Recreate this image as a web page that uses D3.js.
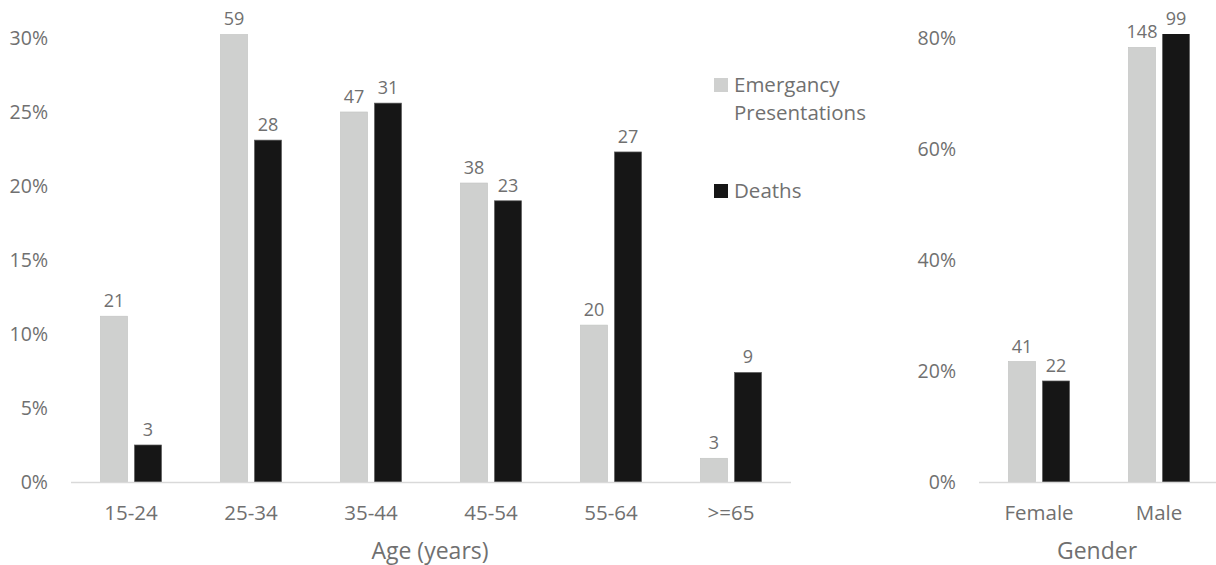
<!DOCTYPE html>
<html>
<head>
<meta charset="utf-8">
<script src="https://cdn.jsdelivr.net/npm/d3@7"></script>
<style>
  body { margin: 0; background: #fff; }
  svg text { font-family: 'Open Sans', sans-serif; fill: #707070; }
</style>
</head>
<body>
<div id="chart"></div>
<script>
// age panel
let ageGroups = ['15-24', '25-34', '35-44', '45-54', '55-64', '>=65']
let agePresPct = [11.2, 31.4, 25.0, 20.2, 10.6, 1.6]
let ageDeathPct = [2.5, 23.1, 25.6, 19.0, 22.3, 7.4]
let agePresN = [21, 59, 47, 38, 20, 3]
let ageDeathN = [3, 28, 31, 23, 27, 9]
let ageTicks = [0, 5, 10, 15, 20, 25, 30]

// gender panel
let genders = ['Female', 'Male']
let genderPresPct = [21.7, 78.3]
let genderDeathPct = [18.2, 81.8]
let genderPresN = [41, 148]
let genderDeathN = [22, 99]
let genderTicks = [0, 20, 40, 60, 80]

let seriesNames = ['Emergancy\nPresentations', 'Deaths']
let colors = ['#cfd0cf', '#161616']
let strokes = ['#c4c5c4', '#5a5a5a']

let width = 1216,
  height = 565,
  baseY = 482,
  topY = 38,
  clipTop = 34

let svg = d3.select('#chart').append('svg')
  .attr('width', width)
  .attr('height', height)

function panel (opts) {
  let x = d3.scaleBand()
    .domain(opts.cats)
    .range([opts.x0, opts.x0 + opts.cats.length * 120])

  let y = d3.scaleLinear()
    .domain([0, opts.max])
    .range([baseY, topY])

  let g = svg.append('g')

  svg.append('clipPath').attr('id', opts.id)
    .append('rect')
    .attr('x', opts.x0)
    .attr('y', clipTop)
    .attr('width', opts.cats.length * 120)
    .attr('height', baseY - clipTop)

  // tick labels
  g.selectAll('.ytick')
    .data(opts.ticks)
    .enter().append('text')
    .attr('x', opts.labelX)
    .attr('y', d => y(d))
    .attr('dy', '0.35em')
    .attr('text-anchor', 'end')
    .style('font-size', '19.5px')
    .text(d => d + '%')

  let barW = 27, gap = 7
  let series = [
    { pct: opts.pres, n: opts.presN, off: -(barW + gap / 2) },
    { pct: opts.death, n: opts.deathN, off: gap / 2 }
  ]

  series.forEach((s, si) => {
    let data = opts.cats.map((c, i) => ({ cat: c, v: s.pct[i], n: s.n[i] }))
    g.append('g').attr('clip-path', 'url(#' + opts.id + ')')
      .selectAll('rect')
      .data(data)
      .enter().append('rect')
      .attr('x', d => x(d.cat) + x.bandwidth() / 2 + s.off)
      .attr('y', d => y(d.v))
      .attr('width', barW)
      .attr('height', d => baseY - y(d.v))
      .attr('fill', colors[si])
      .attr('stroke', strokes[si])
      .attr('stroke-width', 0.7)

    g.selectAll('.lbl' + si)
      .data(data)
      .enter().append('text')
      .attr('x', d => x(d.cat) + x.bandwidth() / 2 + s.off + barW / 2)
      .attr('y', d => Math.max(y(d.v), clipTop) - 9)
      .attr('text-anchor', 'middle')
      .style('font-size', '18px')
      .text(d => d.n)
  })

  // baseline
  g.append('line')
    .attr('x1', opts.x0)
    .attr('x2', opts.x0 + opts.cats.length * 120)
    .attr('y1', baseY + 0.5)
    .attr('y2', baseY + 0.5)
    .attr('stroke', '#d9d9d9')
    .attr('stroke-width', 1.5)

  g.selectAll('.xlab')
    .data(opts.cats)
    .enter().append('text')
    .attr('x', d => x(d) + x.bandwidth() / 2)
    .attr('y', 513)
    .attr('dy', '0.35em')
    .attr('text-anchor', 'middle')
    .style('font-size', '20.5px')
    .text(d => d)

  g.append('text')
    .attr('x', opts.titleX)
    .attr('y', 551)
    .attr('dy', '0.35em')
    .attr('text-anchor', 'middle')
    .style('font-size', '23px')
    .text(opts.title)
}

panel({
  id: 'clipAge', cats: ageGroups, x0: 71, max: 30, ticks: ageTicks, labelX: 48,
  pres: agePresPct, death: ageDeathPct, presN: agePresN, deathN: ageDeathN,
  title: 'Age (years)', titleX: 430
})

panel({
  id: 'clipGender', cats: genders, x0: 979, max: 80, ticks: genderTicks, labelX: 956,
  pres: genderPresPct, death: genderDeathPct, presN: genderPresN, deathN: genderDeathN,
  title: 'Gender', titleX: 1097
})

// legend
let legend = svg.append('g').attr('class', 'legend')
let legendY = [78, 184]
seriesNames.forEach((name, i) => {
  legend.append('rect')
    .attr('x', 714)
    .attr('y', legendY[i])
    .attr('width', 14)
    .attr('height', 14)
    .attr('fill', colors[i])
  let t = legend.append('text')
    .attr('x', 734)
    .attr('y', legendY[i] + 7)
    .style('font-size', '20.5px')
  name.split('\n').forEach((line, j) => {
    t.append('tspan')
      .attr('x', 734)
      .attr('dy', j === 0 ? '0.35em' : 28)
      .text(line)
  })
})
</script>
</body>
</html>
